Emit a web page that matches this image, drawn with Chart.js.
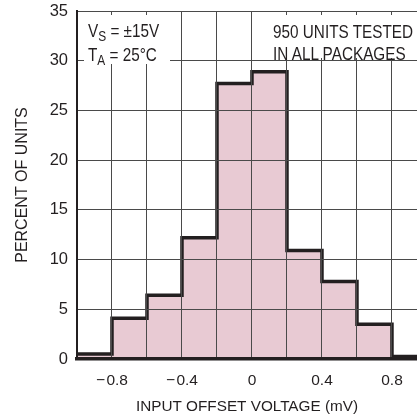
<!DOCTYPE html>
<html>
<head>
<meta charset="utf-8">
<script src="https://cdn.jsdelivr.net/npm/chart.js@4/dist/chart.umd.min.js"></script>
<style>
  html, body { margin: 0; padding: 0; background: #fff; }
  #wrap { position: relative; width: 417px; height: 418px; overflow: hidden; }
  canvas { display: block; }
  .note {
    position: absolute; background: #fff; color: #231f20; box-sizing: border-box;
    font-family: "Liberation Sans", Arial, sans-serif; font-size: 18px; white-space: nowrap;
  }
  .note span { display: block; transform: scaleX(0.85); transform-origin: 0 0; }
  .note sub { font-size: 14px; vertical-align: -4px; line-height: 0; }
</style>
</head>
<body>
<div id="wrap">
  <canvas id="chart" width="417" height="418"></canvas>
  <div class="note" style="left:84px; top:15px; width:86px; height:49px; padding:4px 0 0 4px; line-height:24px;"><span>V<sub>S</sub> = &plusmn;15V<br>T<sub>A</sub> = 25&deg;C</span></div>
  <div class="note" style="left:266px; top:15px; width:151px; height:43px; padding:6px 0 0 7px; line-height:22px;"><span>950 UNITS TESTED<br>IN ALL PACKAGES</span></div>
</div>
<script>
(function () {
  // histogram bins (left edge, mV) and percent of units in each 0.2mV bin
  var BIN_EDGES = [-1.0, -0.8, -0.6, -0.4, -0.2, 0, 0.2, 0.4, 0.6, 0.8];
  var BIN_WIDTH = 0.2;
  var PERCENT = [0.5, 4.1, 6.4, 12.2, 27.7, 28.9, 10.9, 7.8, 3.5, 0.25];

  var X_GRID = [-1.0, -0.8, -0.6, -0.4, -0.2, 0, 0.2, 0.4, 0.6, 0.8];
  var X_LABELS = ['\u2212\u200a0.8', '\u2212\u200a0.4', '0', '0.4', '0.8'];
  var X_LABEL_AT = [-0.8, -0.4, 0, 0.4, 0.8];
  var Y_TICKS = [0, 5, 10, 15, 20, 25, 30, 35];

  var FONT = '"Liberation Sans", Arial, sans-serif';
  var INK = '#231f20';
  var GRID = '#4a4a4a';
  var FILL = '#e8cad3';

  // each bin value holds from its left edge to the next edge
  var points = BIN_EDGES.map(function (x, i) { return { x: x, y: PERCENT[i] }; });
  var last = BIN_EDGES.length - 1;
  points.push({ x: BIN_EDGES[last] + BIN_WIDTH, y: PERCENT[last] });

  function near(a, b) { return Math.abs(a - b) < 1e-6; }

  new Chart(document.getElementById('chart'), {
    type: 'line',
    data: {
      datasets: [{
        data: points,
        stepped: 'before',
        fill: 'origin',
        backgroundColor: FILL,
        borderColor: INK,
        borderWidth: 3.5,
        pointRadius: 0,
        borderJoinStyle: 'miter'
      }]
    },
    options: {
      responsive: false,
      animation: false,
      events: [],
      layout: { padding: { top: 11, right: 0, bottom: 0, left: 0 } },
      plugins: { legend: { display: false }, tooltip: { enabled: false } },
      scales: {
        x: {
          type: 'linear',
          min: -1.0,
          max: 0.943,
          afterFit: function (s) { s.height = 59; s.paddingLeft = 0; s.paddingRight = 0; },
          afterBuildTicks: function (s) {
            s.ticks = X_GRID.map(function (v) { return { value: v }; });
          },
          grid: { color: GRID, lineWidth: 1, drawTicks: false, z: 1 },
          border: { color: INK, width: 3.5, z: 2 },
          ticks: {
            padding: 12,
            color: INK,
            maxRotation: 0,
            autoSkip: false,
            font: { family: FONT, size: 15.5 },
            callback: function (v) {
              for (var i = 0; i < X_LABEL_AT.length; i++) {
                if (near(v, X_LABEL_AT[i])) return X_LABELS[i];
              }
              return '';
            }
          },
          title: {
            display: true,
            text: 'INPUT OFFSET VOLTAGE (mV)',
            color: INK,
            font: { family: FONT, size: 15.3 },
            padding: { top: 0, bottom: 2 }
          }
        },
        y: {
          min: 0,
          max: 35,
          afterFit: function (s) { s.width = 77; s.paddingTop = 0; s.paddingBottom = 0; },
          afterBuildTicks: function (s) {
            s.ticks = Y_TICKS.map(function (v) { return { value: v }; });
          },
          grid: { color: GRID, lineWidth: 1, drawTicks: false, z: 1 },
          border: { color: INK, width: 2, z: 2 },
          ticks: {
            padding: 9,
            color: INK,
            font: { family: FONT, size: 16.5 }
          },
          title: {
            display: true,
            text: 'PERCENT OF UNITS',
            color: INK,
            font: { family: FONT, size: 16 },
            padding: { top: 13, bottom: 0 }
          }
        }
      }
    }
  });
})();
</script>
</body>
</html>
